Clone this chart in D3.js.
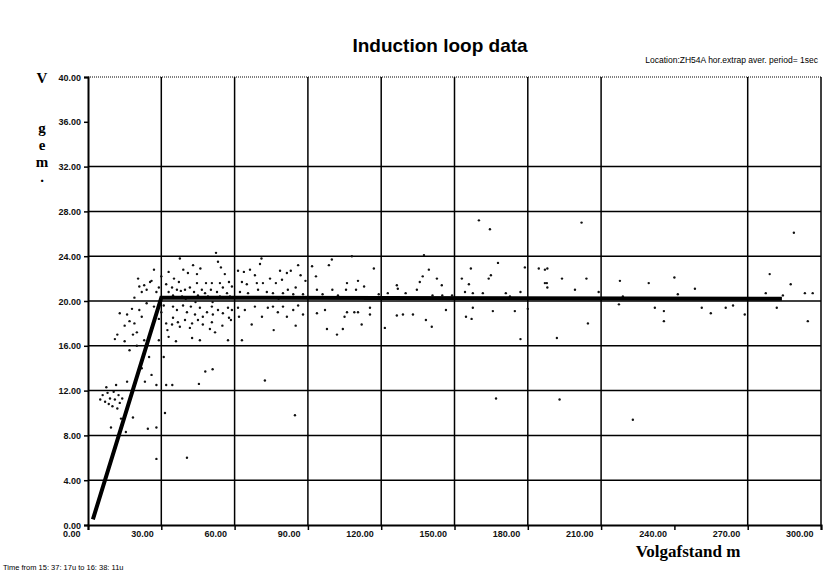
<!DOCTYPE html>
<html>
<head>
<meta charset="utf-8">
<script src="https://cdn.jsdelivr.net/npm/d3@7"></script>
<style>
  body { margin: 0; background: #fff; }
  svg { display: block; }
</style>
</head>
<body>
<svg id="chart" width="823" height="574"></svg>
<script>
// axis ticks
var xTicks = [0, 30, 60, 90, 120, 150, 180, 210, 240, 270, 300];
var xGrid = [30, 60, 90, 120, 150, 180, 210, 270, 300]; // no line at 240 in the original
var yTicks = [0, 4, 8, 12, 16, 20, 24, 28, 32, 36, 40];
var yGrid = [4, 8, 12, 16, 20, 24, 28, 32, 40]; // no line at 36

// fitted speed/headway line
var fitX = [2, 30, 284];
var fitY = [0.5, 20.3, 20.2];

// measurements: [volgafstand m, V gem.]
var obs = [
  // 0 - 30 m
  [5,11.2],[6,11.6],[7,11],[7.5,12.3],[8,11.8],[8.5,10.8],[9,11.3],[9.4,8.7],[10,10.6],[10.5,11.9],
  [11,11.2],[11.5,12.5],[12,10.4],[12.5,11.6],[13,10.9],[14,11.3],[13.5,9.5],[15.5,8.3],[16,12.8],[18.4,9.6],
  [23.3,12.8],[24.5,8.6],[26,13.4],[28,12.5],[28,8.7],[28,5.9],[22,14],[20,16],[16,18.8],[17,18.2],
  [18.4,17],[15,17.8],[18,19.3],[19,18],[20,17.2],[21,19.2],[22,18.6],[23,16.5],[24,19.8],[15,16.4],
  [17,15.6],[20.5,22],[25.4,21.7],[24,21],[26,21.8],[27,19.5],[28,20.8],[29,21.2],[22,20.8],[19,20.3],
  [27,22.8],[29,18.4],[26,17.6],[25,15],[29,16.5],[13,18.9],[12,17],[11,16.6],[21,21.3],[23,21.4],
  // 30 - 60 m
  [30,22.2],[30,19],[31.5,10],[32,12.5],[34.5,12.5],[31,15],[33,16.8],[32,18],[40.5,6],[45.4,12.6],
  [48,13.7],[51,13.9],[43,23.2],[53.2,23.5],[54.4,23],[40.9,22.5],[44.6,22.4],[35.2,22],[37.2,21.7],[44.6,21.6],
  [48.3,21.6],[50.7,21.6],[54,21.6],[57.7,21.7],[58.9,21.3],[34.4,21.2],[36.4,21],[39.7,21],[41.7,21.2],[43.4,20.8],
  [46.6,21],[47.9,20.7],[50.3,21],[52.8,20.8],[55.2,21.2],[56.9,20.7],[34.8,20.5],[38.5,20.4],[45,20.5],[49.1,20.4],
  [54,20.4],[58.1,20.4],[34.8,19.5],[36.4,19.2],[38.9,19.6],[40.5,19],[42.1,19.5],[43.8,18.8],[45.8,19.4],[47,18.6],
  [48.7,19],[50.7,19.5],[51.1,18.8],[53.2,19.2],[55.2,18.9],[57.3,19.4],[58.5,18.3],[34.8,18.5],[36.8,18.1],[39.7,18.3],
  [42.6,18],[45,18.3],[47,17.9],[49.9,17.5],[50.7,18.1],[41.7,17.6],[37.6,17.7],[34.4,17.9],[42.6,16.7],[45.8,16.5],
  [57.3,16.5],[57.7,18.5],[58.9,19.2],[52.4,24.3],[37.6,23.8],[32,21.5],[33,20.8],[31,19.6],[33,22.6],[39,22.8],
  [46,22.9],[56,22.4],[32.5,17.4],[36,16.4],[52,17.2],[55,17.8],[38,20.9],[51,19.9],[44,19.9],[40,20.2],
  // 60 - 90 m
  [61.4,22.7],[63.8,22.6],[66.3,22.8],[70.4,23.3],[68.3,22.3],[63,21.7],[65,21.5],[69.1,21.6],[71.6,21.6],[74.5,22],
  [76.9,21.6],[79.4,21.9],[81.4,22.5],[78.6,22.7],[62.2,20.8],[65.5,20.7],[69.6,21],[73.2,20.8],[75.7,20.7],[79.8,20.7],
  [81.8,21],[61.4,19.4],[64.2,19.2],[68.3,19.5],[71.2,18.6],[73.6,19.4],[75.7,19.5],[77.7,19],[79.8,19.5],[81.4,18.6],
  [61.8,18.6],[63,16.5],[83,22.7],[85,21.2],[86,19.6],[87,22.3],[84,20.6],[88,18.8],[89,21.8],[86,23.2],
  [84,19.2],[88,20.6],[85,17.8],[72.4,12.9],[84.7,9.8],[67,17.9],[76,17.4],[71,23.8],[66,20.3],[78,20.2],
  // 90 - 120 m
  [99.8,23.7],[98.6,23.2],[93.3,22.2],[91.7,23.1],[106,21.6],[110.5,21.8],[117,22.9],[100,21],[105.6,21],[109.7,21],
  [102.3,20.5],[93.7,21],[97,19.2],[106,19],[109,19],[110.5,19],[105,18.6],[115.4,19.4],[115.4,18.8],[104.3,17.5],
  [101.9,17],[97.8,17.5],[93.7,18.9],[108,24],[113,21.3],[96,20.6],[119,20.6],[112,17.9],
  // 120 - 150 m
  [137.5,24.1],[139.5,22.8],[137,22.2],[135.8,21.7],[142.8,22],[144.8,21.4],[126.4,21.4],[126.8,21.1],[134.6,21],[122.7,20.7],
  [130,20.7],[141,20.5],[145,20.5],[149,20.5],[121.5,17.6],[126.4,18.7],[128.9,18.8],[133,18.8],[138.3,18.3],[140.7,17.7],
  [146.5,19.2],[160,27.2],
  // 150 - 180 m
  [156.7,22.9],[153,22],[164.9,22.3],[164,22],[155.9,21.5],[154.3,20.8],[157.5,20.7],[161.6,20.7],[171,20.7],[172.7,20.4],
  [177,20.8],[178.8,23],[167.8,23.4],[157.5,19.4],[154.7,18.6],[157,18.4],[165.7,19.1],[174.7,19.1],[177,16.6],[164.5,26.4],
  [167,11.3],
  // 180 - 300 m
  [184.5,22.9],[188,22.9],[187.8,21.6],[180,19.3],[187,22.8],[194,22],[204,22],[187,21.6],[188,21.2],[199.3,21],
  [202,27],[193,11.2],[217.7,21.8],[229.5,21.6],[240,22.1],[248.4,21.1],[241.4,20.6],[218.9,20.4],[209,20.8],[279,22.4],
  [287.6,21.5],[284.4,20.5],[293.4,20.7],[296.6,20.7],[277.4,20.7],[217.3,19.7],[232,19.4],[235.7,19.1],[235.7,18.2],[251.2,19.4],
  [261,19.4],[264,19.6],[268.8,18.8],[281.9,19.4],[294.6,18.2],[204.6,18],[191.9,16.7],[254.9,18.9],[234.4,20.2],[288.9,26.1],
  [223,9.4]
];

var svg = d3.select("#chart");
var plotL = 88, plotR = 821, plotT = 77, plotB = 525;

var x = d3.scaleLinear().domain([0, 300]).range([plotL, plotR]);
var y = d3.scaleLinear().domain([0, 40]).range([plotB, plotT]);

var small = "'Liberation Sans', Arial, sans-serif";

// titles
svg.append("text")
  .attr("x", 440).attr("y", 52)
  .attr("text-anchor", "middle")
  .style("font-family", small)
  .style("font-weight", "bold")
  .style("font-size", "19px")
  .text("Induction loop data");

svg.append("text")
  .attr("x", 818).attr("y", 63)
  .attr("text-anchor", "end")
  .style("font-family", small)
  .style("font-size", "8.5px")
  .text("Location:ZH54A hor.extrap aver. period= 1sec");

// grid
var g = svg.append("g");
g.selectAll(".hgrid").data(yGrid).enter().append("line")
  .attr("x1", plotL).attr("x2", plotR)
  .attr("y1", function(d) { return y(d); })
  .attr("y2", function(d) { return y(d); })
  .attr("stroke", "#000")
  .attr("stroke-width", function(d) { return d == 40 ? 1 : 1.5; })
  .attr("stroke-dasharray", function(d) { return d == 40 ? "1,1" : null; });

g.selectAll(".vgrid").data(xGrid).enter().append("line")
  .attr("y1", plotT).attr("y2", plotB)
  .attr("x1", function(d) { return x(d); })
  .attr("x2", function(d) { return x(d); })
  .attr("stroke", "#000")
  .attr("stroke-width", 1.5);

// axes
var fmt = d3.format(".2f");
var yAxis = d3.axisLeft(y).tickValues(yTicks).tickSize(4).tickPadding(4).tickFormat(fmt);
var xAxis = d3.axisBottom(x).tickValues(xTicks).tickSize(5).tickPadding(3).tickFormat(fmt);

var ya = svg.append("g").attr("transform", "translate(" + plotL + ",0)").call(yAxis);
var xa = svg.append("g").attr("transform", "translate(0," + plotB + ")").call(xAxis);

[ya, xa].forEach(function(a) {
  a.select(".domain").attr("stroke", "#000").attr("stroke-width", 2);
  a.selectAll(".tick line").attr("stroke", "#000").attr("stroke-width", 1.5);
  a.selectAll("text")
    .style("font-family", small)
    .style("font-weight", "bold")
    .style("font-size", "9px")
    .attr("fill", "#111");
});
ya.selectAll(".tick text").attr("x", -7).attr("dy", "0.35em");
xa.selectAll(".tick text")
  .attr("text-anchor", "end")
  .attr("x", -8)
  .attr("dy", "0.35em")
  .attr("y", 9);

// y axis title, stacked letters
var yTitle = ["V", "g", "e", "m", "."];
var yTitlePos = [83, 133, 150, 167, 182];
svg.selectAll(".ytitle").data(yTitle).enter().append("text")
  .attr("x", 42)
  .attr("y", function(d, i) { return yTitlePos[i]; })
  .attr("text-anchor", "middle")
  .style("font-family", "'Liberation Serif', 'Times New Roman', serif")
  .style("font-weight", "bold")
  .style("font-size", "15px")
  .text(function(d) { return d; });

svg.append("text")
  .attr("x", 688).attr("y", 557)
  .attr("text-anchor", "middle")
  .style("font-family", "'Liberation Serif', 'Times New Roman', serif")
  .style("font-weight", "bold")
  .style("font-size", "17px")
  .text("Volgafstand m");

svg.append("text")
  .attr("x", 3).attr("y", 570)
  .style("font-family", small)
  .style("font-size", "7.5px")
  .text("Time from  15: 37: 17u to  16: 38: 11u");

// scatter
svg.append("g").selectAll("circle").data(obs).enter().append("circle")
  .attr("cx", function(d) { return x(d[0]); })
  .attr("cy", function(d) { return y(d[1]); })
  .attr("r", 1.2)
  .attr("fill", "#111");

// fitted line
var line = d3.line()
  .x(function(d, i) { return x(fitX[i]); })
  .y(function(d, i) { return y(fitY[i]); });

svg.append("path")
  .attr("d", line(fitX))
  .attr("fill", "none")
  .attr("stroke", "#000")
  .attr("stroke-width", 4);
</script>
</body>
</html>
